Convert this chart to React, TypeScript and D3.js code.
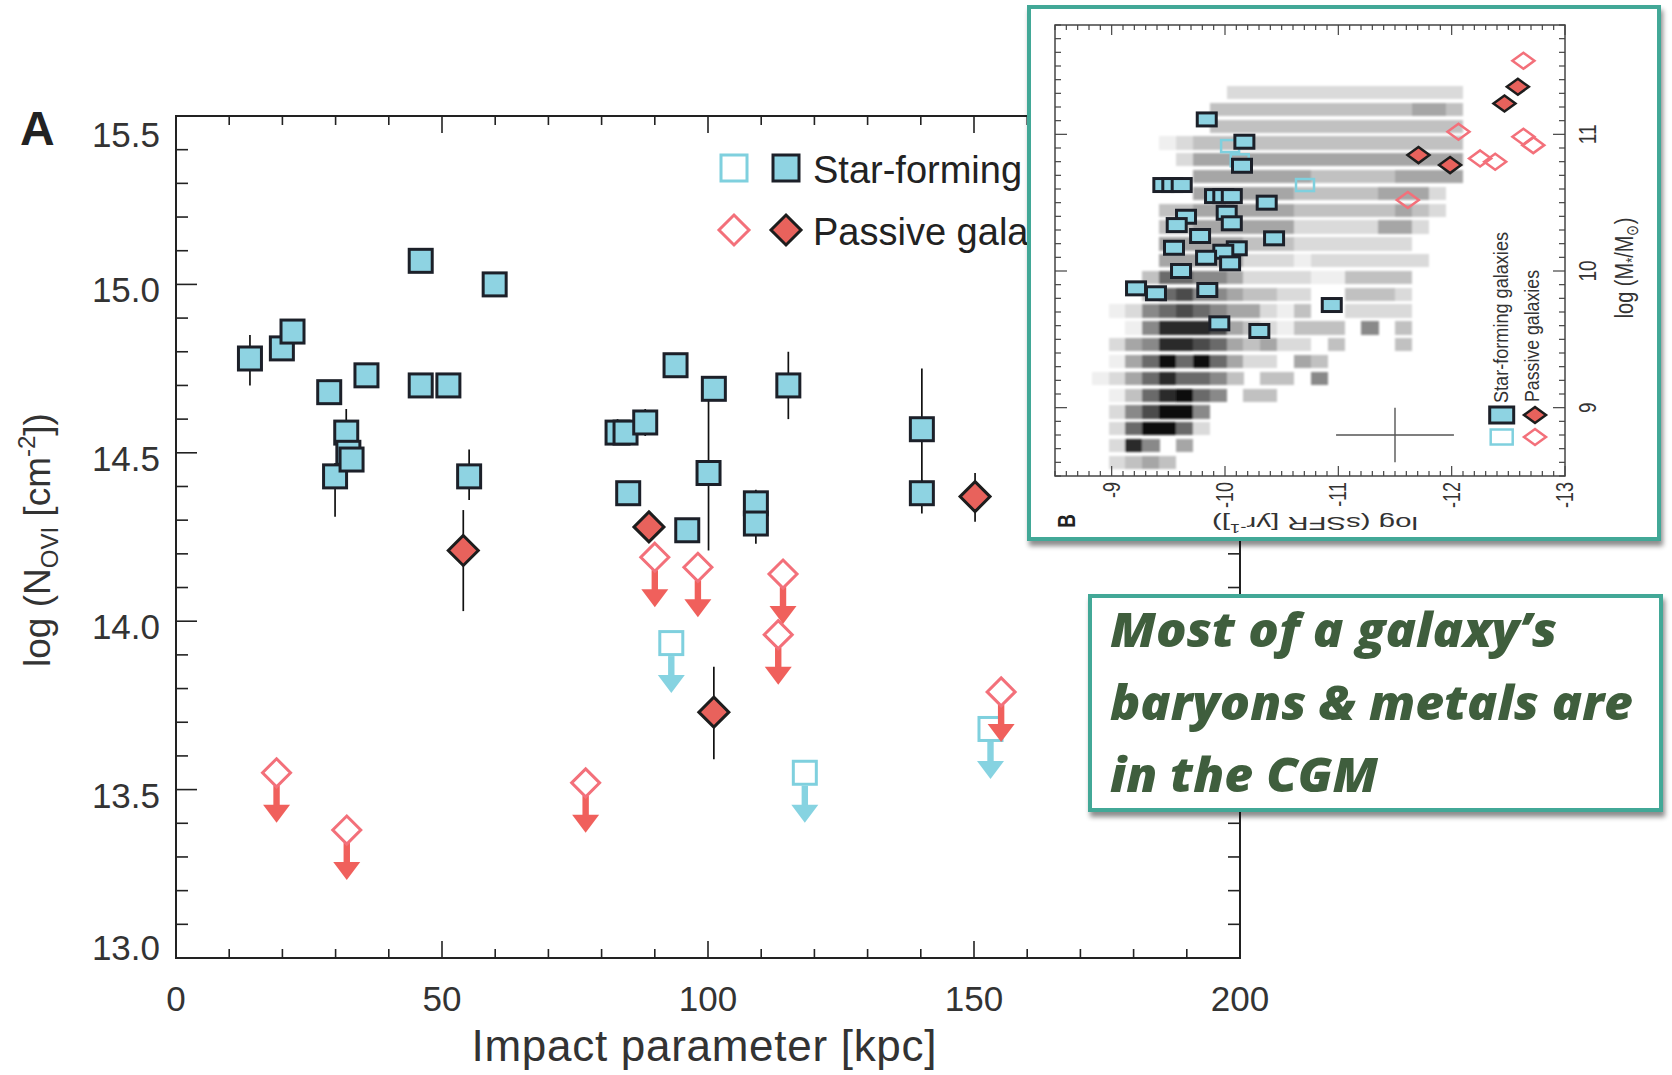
import React from "react";
import * as d3 from "d3";

// ---------- panel A : O VI column vs impact parameter ----------
const xTicks = [0, 50, 100, 150, 200];
const yTicks = [13.0, 13.5, 14.0, 14.5, 15.0, 15.5];

// filled squares - star-forming galaxies, detections (b in kpc, n = log N)
const starFormingDetected = [
  { b: 13.9, n: 14.78, lo: 14.7, hi: 14.85 },
  { b: 19.9, n: 14.81 },
  { b: 21.9, n: 14.86 },
  { b: 28.8, n: 14.68 },
  { b: 29.9, n: 14.43, lo: 14.31, hi: 14.47 },
  { b: 32.0, n: 14.56, lo: 14.52, hi: 14.63 },
  { b: 32.4, n: 14.5 },
  { b: 33.0, n: 14.48 },
  { b: 35.8, n: 14.73 },
  { b: 46.0, n: 15.07 },
  { b: 46.0, n: 14.7 },
  { b: 51.2, n: 14.7, lo: 14.68, hi: 14.72 },
  { b: 55.1, n: 14.43, lo: 14.36, hi: 14.51 },
  { b: 59.9, n: 15.0 },
  { b: 83.0, n: 14.56, lo: 14.53, hi: 14.6 },
  { b: 84.5, n: 14.56 },
  { b: 85.0, n: 14.38 },
  { b: 88.2, n: 14.59, lo: 14.55, hi: 14.63 },
  { b: 93.9, n: 14.76 },
  { b: 96.1, n: 14.27, lo: 14.24, hi: 14.3 },
  { b: 100.1, n: 14.44, lo: 14.21, hi: 14.67 },
  { b: 101.1, n: 14.69, lo: 14.66, hi: 14.71 },
  { b: 109.0, n: 14.35, lo: 14.3, hi: 14.39 },
  { b: 109.0, n: 14.29, lo: 14.23, hi: 14.33 },
  { b: 115.1, n: 14.7, lo: 14.6, hi: 14.8 },
  { b: 140.2, n: 14.57, lo: 14.4, hi: 14.75 },
  { b: 140.2, n: 14.38, lo: 14.32, hi: 14.42 },
];

// filled diamonds - passive galaxies, detections
const passiveDetected = [
  { b: 54.0, n: 14.21, lo: 14.03, hi: 14.33 },
  { b: 88.9, n: 14.28 },
  { b: 101.1, n: 13.73, lo: 13.59, hi: 13.865 },
  { b: 150.2, n: 14.37, lo: 14.295, hi: 14.44 },
];

// open symbols - upper limits
const starFormingLimits = [
  { b: 93.1, n: 13.935 },
  { b: 118.2, n: 13.55 },
  { b: 153.1, n: 13.68 },
];
const passiveLimits = [
  { b: 18.9, n: 13.55 },
  { b: 32.1, n: 13.38 },
  { b: 77.0, n: 13.52 },
  { b: 90.0, n: 14.19 },
  { b: 98.1, n: 14.16 },
  { b: 113.2, n: 13.96 },
  { b: 114.1, n: 14.14 },
  { b: 155.1, n: 13.79 },
];

// ---------- panel B inset : sSFR vs stellar mass ----------
const ssfrTicks = [-9, -10, -11, -12, -13];
const massTicks = [9, 10, 11];

// background 2D histogram, grey level 0-9; row 0 = lowest mass bin
const histMassStart = 8.538;
const histMassStep = 0.123;
const histSsfrStart = -8.824;
const histSsfrStep = -0.1487;
const histRows = [
  "02343000000000000000000",
  "02850400000000000000000",
  "02699620000000000000000",
  "02579950000000000000000",
  "01368965033000000000000",
  "12468665303305000000000",
  "01469696422043000000000",
  "02458876434220300030000",
  "00158887432133305030000",
  "01256765442130022220000",
  "00036755433220033320000",
  "00036655422221133330000",
  "00004444422212222222000",
  "00004444433322222220000",
  "00003344444422222442000",
  "00003344444433333343200",
  "00000044444433333444200",
  "00000044444443333344440",
  "00000244444444444444440",
  "00001233333333333333330",
  "00000003333333333333330",
  "00000003333333333334430",
  "00000000222222222222220",
];

// [log sSFR, log M*]
const insetStarForming = [
  [-9.839, 11.109], [-10.171, 10.946], [-10.15, 10.77],
  [-9.456, 10.629], [-9.535, 10.629], [-9.618, 10.629],
  [-9.912, 10.548], [-9.985, 10.548], [-10.06, 10.548],
  [-10.368, 10.5], [-9.656, 10.397], [-10.015, 10.426],
  [-9.574, 10.336], [-10.06, 10.349], [-9.78, 10.256],
  [-10.433, 10.239], [-9.55, 10.17], [-10.104, 10.166],
  [-9.985, 10.141], [-9.833, 10.097], [-10.045, 10.056],
  [-9.612, 10.0], [-9.215, 9.873], [-9.391, 9.837],
  [-9.844, 9.861], [-9.95, 9.617], [-10.303, 9.561],
  [-10.942, 9.751],
];
const insetStarFormingOpen = [[-10.045, 10.914], [-10.13, 10.81], [-10.706, 10.629]];
const insetPassive = [[-12.584, 11.348], [-12.466, 11.226], [-11.707, 10.848], [-11.986, 10.775]];
const insetPassiveOpen = [
  [-12.633, 11.538], [-12.06, 11.019], [-12.633, 10.982], [-12.72, 10.921],
  [-12.251, 10.824], [-12.384, 10.799], [-11.613, 10.519],
];
const typicalError = { ssfr: -11.5, mass: 8.8, dSsfr: 0.52, dMass: 0.2 };

const calloutLines = ["Most of a galaxy\u2019s", "baryons & metals are", "in the CGM"];

const CYAN_FILL = "#8ed3e2";
const CYAN_LINE = "#7fd0de";
const RED_FILL = "#e8625c";
const RED_LINE = "#f3707a";
const RED_ARROW = "#f0605c";
const DARK = "#1c2029";
const TEAL = "#43a897";
const FONT = "'Liberation Sans', Arial, Helvetica, sans-serif";

const diamond = (cx, cy, hw, hh) =>
  `${cx},${cy - hh} ${cx + hw},${cy} ${cx},${cy + hh} ${cx - hw},${cy}`;

const isMajor = (v, step) => Math.abs(v / step - Math.round(v / step)) < 1e-6;

const App = () => {
  const x = d3.scaleLinear().domain([0, 200]).range([176, 1240]);
  const y = d3.scaleLinear().domain([13, 15.5]).range([958, 116]);
  const [x0, x1] = x.range();
  const [y0, y1] = y.range(); // y0 bottom, y1 top

  const sx = d3.scaleLinear().domain([-8.5, -13]).range([1055, 1565]);
  const sy = d3.scaleLinear().domain([8.5, 11.8]).range([476, 25]);
  const gray = d3.scalePow().exponent(1.25).domain([0, 9]).range(["#ffffff", "#0a0a0a"]);

  const xMinor = d3.range(0, 201, 10);
  const yMinor = d3.range(130, 156).map((v) => v / 10);
  const ssfrMinor = d3.range(-130, -84).map((v) => v / 10);
  const massMinor = d3.range(85, 119).map((v) => v / 10);

  const cells = histRows.flatMap((row, i) =>
    row.split("").map((c, j) => ({ i, j, v: +c })).filter((d) => d.v > 0)
  );

  // arrow below an upper-limit symbol
  const arrow = (cx, cy, color, key) => (
    <g key={key} fill={color}>
      <rect x={cx - 3.2} y={cy + 13} width={6.4} height={21} />
      <polygon points={`${cx - 13.5},${cy + 32} ${cx + 13.5},${cy + 32} ${cx},${cy + 50}`} />
    </g>
  );

  return (
    <svg
      width={1672}
      height={1075}
      style={{ position: "absolute", left: 0, top: 0, display: "block", background: "#fff" }}
      fontFamily={FONT}
    >
      <defs>
        <filter id="shadow" x="-5%" y="-5%" width="115%" height="115%">
          <feDropShadow dx="2" dy="5" stdDeviation="2.5" floodColor="#000" floodOpacity="0.45" />
        </filter>
        <filter id="soft" x="-2%" y="-2%" width="104%" height="104%">
          <feGaussianBlur stdDeviation="0.8" />
        </filter>
      </defs>

      {/* ================= panel A ================= */}
      <text x={20} y={145} fontSize={48} fontWeight="bold" fill="#222">A</text>

      {/* frame */}
      <rect x={x0} y={y1} width={x1 - x0} height={y0 - y1} fill="none" stroke="#222" strokeWidth={2} />

      {/* ticks */}
      <g stroke="#222" strokeWidth={1.6}>
        {xMinor.map((t) => {
          const len = isMajor(t, 50) ? 17 : 9;
          return (
            <g key={"xt" + t}>
              <line x1={x(t)} x2={x(t)} y1={y0} y2={y0 - len} />
              <line x1={x(t)} x2={x(t)} y1={y1} y2={y1 + len} />
            </g>
          );
        })}
        {yMinor.map((v) => {
          const len = isMajor(v, 0.5) ? 21 : 12;
          return (
            <g key={"yt" + v}>
              <line x1={x0} x2={x0 + len} y1={y(v)} y2={y(v)} />
              <line x1={x1} x2={x1 - len} y1={y(v)} y2={y(v)} />
            </g>
          );
        })}
      </g>

      {/* tick labels */}
      <g fontSize={35} fill="#333">
        {xTicks.map((t) => (
          <text key={"xl" + t} x={x(t)} y={1011} textAnchor="middle">{t}</text>
        ))}
        {yTicks.map((v) => (
          <text
            key={"yl" + v}
            x={160}
            y={Math.max(y1 + 31, Math.min(y0 + 2, y(v) + 18))}
            textAnchor="end"
          >
            {v.toFixed(1)}
          </text>
        ))}
      </g>

      {/* axis titles */}
      <text x={704} y={1061} fontSize={44} textAnchor="middle" fill="#333" textLength={465}>
        Impact parameter [kpc]
      </text>
      <text transform="translate(50,540) rotate(-90)" fontSize={37} textAnchor="middle" fill="#333">
        log (N
        <tspan fontSize={24} dy={8}>OVI</tspan>
        <tspan dy={-8}> [cm</tspan>
        <tspan fontSize={24} dy={-15}>-2</tspan>
        <tspan dy={15}>])</tspan>
      </text>

      {/* error bars */}
      <g stroke="#111" strokeWidth={1.7}>
        {[...starFormingDetected, ...passiveDetected]
          .filter((d) => d.lo !== undefined)
          .map((d, i) => (
            <line key={"eb" + i} x1={x(d.b)} x2={x(d.b)} y1={y(d.lo)} y2={y(d.hi)} />
          ))}
      </g>

      {/* upper limits */}
      {starFormingLimits.map((d, i) => (
        <g key={"sfl" + i}>
          {arrow(x(d.b), y(d.n), "#86d3e1", "a")}
          <rect x={x(d.b) - 11.5} y={y(d.n) - 11.5} width={23} height={23} fill="none" stroke={CYAN_LINE} strokeWidth={3} />
        </g>
      ))}
      {passiveLimits.map((d, i) => (
        <g key={"pl" + i}>
          {arrow(x(d.b), y(d.n), RED_ARROW, "a")}
          <polygon points={diamond(x(d.b), y(d.n), 14, 14)} fill="#fff" stroke={RED_LINE} strokeWidth={3} />
        </g>
      ))}

      {/* detections */}
      {starFormingDetected.map((d, i) => (
        <rect key={"sf" + i} x={x(d.b) - 11.5} y={y(d.n) - 11.5} width={23} height={23} fill={CYAN_FILL} stroke={DARK} strokeWidth={3} />
      ))}
      {passiveDetected.map((d, i) => (
        <polygon key={"pd" + i} points={diamond(x(d.b), y(d.n), 15, 15)} fill={RED_FILL} stroke="#1d1d1d" strokeWidth={3} />
      ))}

      {/* legend */}
      <g>
        <rect x={734 - 13} y={168 - 13} width={26} height={26} fill="none" stroke={CYAN_LINE} strokeWidth={3} />
        <rect x={786 - 13} y={168 - 13} width={26} height={26} fill={CYAN_FILL} stroke={DARK} strokeWidth={3} />
        <text x={813} y={183} fontSize={38} fill="#222">Star-forming galaxies</text>
        <polygon points={diamond(734, 230, 15, 15)} fill="#fff" stroke={RED_LINE} strokeWidth={3} />
        <polygon points={diamond(786, 230, 15, 15)} fill={RED_FILL} stroke="#1d1d1d" strokeWidth={3} />
        <text x={813} y={245} fontSize={38} fill="#222">Passive galaxies</text>
      </g>

      {/* ================= panel B inset ================= */}
      <rect x={1029} y={7} width={630} height={532} fill="#fff" stroke={TEAL} strokeWidth={4} filter="url(#shadow)" />

      <g filter="url(#soft)">
        {cells.map((d) => {
          const s0 = histSsfrStart + histSsfrStep * d.j;
          const s1 = s0 + histSsfrStep;
          const m0 = histMassStart + histMassStep * d.i;
          const m1 = m0 + histMassStep;
          return (
            <rect
              key={`c${d.i}-${d.j}`}
              x={sx(s0)}
              width={sx(s1) - sx(s0) + 0.4}
              y={sy(m1) + 1.75}
              height={sy(m0) - sy(m1) - 3.5}
              fill={gray(d.v)}
              shapeRendering="crispEdges"
            />
          );
        })}
      </g>

      {/* inset frame and ticks */}
      <rect x={1055} y={25} width={510} height={451} fill="none" stroke="#444" strokeWidth={1.5} />
      <g stroke="#444" strokeWidth={1.2}>
        {ssfrMinor.map((s) => {
          const len = isMajor(s, 1) ? 10 : 5;
          return (
            <g key={"st" + s}>
              <line x1={sx(s)} x2={sx(s)} y1={476} y2={476 - len} />
              <line x1={sx(s)} x2={sx(s)} y1={25} y2={25 + len} />
            </g>
          );
        })}
        {massMinor.map((m) => {
          const len = isMajor(m, 1) ? 12 : 6;
          return (
            <g key={"mt" + m}>
              <line x1={1055} x2={1055 + len} y1={sy(m)} y2={sy(m)} />
              <line x1={1565} x2={1565 - len} y1={sy(m)} y2={sy(m)} />
            </g>
          );
        })}
      </g>

      {/* typical error cross */}
      <g stroke="#555" strokeWidth={1.4}>
        <line
          x1={sx(typicalError.ssfr - typicalError.dSsfr)}
          x2={sx(typicalError.ssfr + typicalError.dSsfr)}
          y1={sy(typicalError.mass)}
          y2={sy(typicalError.mass)}
        />
        <line
          x1={sx(typicalError.ssfr)}
          x2={sx(typicalError.ssfr)}
          y1={sy(typicalError.mass - typicalError.dMass)}
          y2={sy(typicalError.mass + typicalError.dMass)}
        />
      </g>

      {/* inset markers */}
      {insetStarFormingOpen.map(([s, m], i) => (
        <rect key={"iso" + i} x={sx(s) - 9} y={sy(m) - 6} width={18} height={12} fill="none" stroke={CYAN_LINE} strokeWidth={2.5} />
      ))}
      {insetStarForming.map(([s, m], i) => (
        <rect key={"is" + i} x={sx(s) - 9.5} y={sy(m) - 6.5} width={19} height={13} fill={CYAN_FILL} stroke={DARK} strokeWidth={3} />
      ))}
      {insetPassiveOpen.map(([s, m], i) => (
        <polygon key={"ipo" + i} points={diamond(sx(s), sy(m), 11, 8)} fill="none" stroke={RED_LINE} strokeWidth={2.5} />
      ))}
      {insetPassive.map(([s, m], i) => (
        <polygon key={"ip" + i} points={diamond(sx(s), sy(m), 11, 8)} fill={RED_FILL} stroke="#1d1d1d" strokeWidth={2.5} />
      ))}

      {/* inset tick labels */}
      <g fontSize={18} fill="#333">
        {ssfrTicks.map((s) => (
          <text key={"sl" + s} transform={`translate(${sx(s) + 8},482) scale(1.3,1) rotate(-90)`} textAnchor="end">
            {s}
          </text>
        ))}
        {massTicks.map((m) => (
          <text key={"ml" + m} transform={`translate(1596,${sy(m)}) scale(1.25,1) rotate(-90)`} textAnchor="middle" fontSize={19}>
            {m}
          </text>
        ))}
      </g>
      <text transform="translate(1633,268) scale(1.3,1) rotate(-90)" fontSize={20} textAnchor="middle" fill="#333">
        log (M
        <tspan fontSize={13} dy={4}>*</tspan>
        <tspan dy={-4}>/M</tspan>
        <tspan fontSize={13} dy={4}>⊙</tspan>
        <tspan dy={-4}>)</tspan>
      </text>
      <text
        transform="translate(1315,517) rotate(180)"
        fontSize={19}
        textAnchor="middle"
        fill="#333"
        textLength={206}
        lengthAdjust="spacingAndGlyphs"
      >
        log (sSFR [yr
        <tspan fontSize={12} dy={-7}>-1</tspan>
        <tspan dy={7}>])</tspan>
      </text>
      <text transform="translate(1075,521) scale(1.3,1) rotate(-90)" fontSize={19} fontWeight="bold" textAnchor="middle" fill="#222">
        B
      </text>

      {/* inset legend */}
      <rect x={1501.7 - 12} y={415 - 8} width={24} height={16} fill={CYAN_FILL} stroke={DARK} strokeWidth={3} />
      <polygon points={diamond(1535, 415, 11, 8)} fill={RED_FILL} stroke="#1d1d1d" strokeWidth={2.5} />
      <rect x={1501.7 - 11} y={437 - 7.5} width={22} height={15} fill="none" stroke={CYAN_LINE} strokeWidth={2.5} />
      <polygon points={diamond(1535, 437, 11, 8)} fill="none" stroke={RED_LINE} strokeWidth={2.5} />
      <g fontSize={19.5} fill="#333">
        <text transform="translate(1508,403) rotate(-90)" textLength={171} lengthAdjust="spacingAndGlyphs">
          Star-forming galaxies
        </text>
        <text transform="translate(1539,402) rotate(-90)" textLength={132} lengthAdjust="spacingAndGlyphs">
          Passive galaxies
        </text>
      </g>

      {/* ================= callout box ================= */}
      <rect x={1090} y={596} width={571} height={214} fill="#fff" stroke={TEAL} strokeWidth={4} filter="url(#shadow)" />
      <g fontFamily="'Open Sans', Lato, sans-serif" fontWeight={800} fontStyle="italic" fontSize={48} fill="#3f5e3d">
        {calloutLines.map((line, i) => (
          <text
            key={"cl" + i}
            x={1110}
            y={647 + i * 72.5}
            textLength={[447, 523, 268][i]}
            lengthAdjust="spacingAndGlyphs"
          >
            {line}
          </text>
        ))}
      </g>
    </svg>
  );
};

export default App;
